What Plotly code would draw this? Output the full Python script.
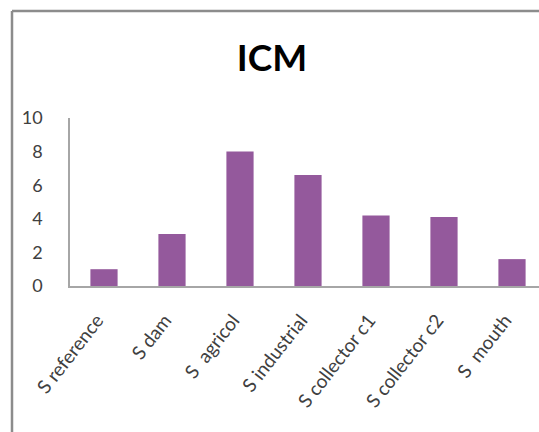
import plotly.graph_objects as go

# ICM index per sampling station
stations = ["S reference", "S dam", "S\u00a0\u00a0agricol",
            "S industrial", "S collector c1", "S collector c2", "S\u00a0\u00a0mouth"]
icm_values = [1.0, 3.1, 8.0, 6.6, 4.2, 4.1, 1.6]
y_ticks = [0, 2, 4, 6, 8, 10]

BAR_COLOR = "#94599C"
AXIS_COLOR = "#A6A6A6"
TEXT_COLOR = "#404040"
FONT = "Lato, Carlito, Calibri, sans-serif"

fig = go.Figure(
    go.Bar(x=stations, y=icm_values, marker=dict(color=BAR_COLOR, line=dict(width=0)))
)

# plot area spans 70..539 px horizontally and 118..286 px vertically
W, H = 539, 432
left, right, top, bottom = 70, 0, 118, 146
plot_w = W - left - right
plot_h = H - top - bottom

fig.update_layout(
    width=W,
    height=H,
    margin=dict(l=left, r=right, t=top, b=bottom, pad=0),
    paper_bgcolor="white",
    plot_bgcolor="white",
    bargap=0.6,
    showlegend=False,
    font=dict(family=FONT, color=TEXT_COLOR, size=19),
    title=dict(
        text="<b>ICM</b>",
        x=272 / W,
        xanchor="center",
        y=1 - 58 / H,
        yanchor="middle",
        font=dict(family=FONT, size=37, color="#000000"),
    ),
)

fig.update_xaxes(
    range=[-0.5, -0.5 + plot_w / 68.0],
    showgrid=False,
    zeroline=False,
    showline=True,
    linecolor=AXIS_COLOR,
    linewidth=1.5,
    ticks="",
    tickangle=-52,
    ticklabelstandoff=14,
    ticklabelshift=-7,
    tickfont=dict(family=FONT, size=19, color=TEXT_COLOR),
)
fig.update_yaxes(
    range=[0, 10],
    tickvals=y_ticks,
    showgrid=False,
    zeroline=False,
    showline=True,
    linecolor=AXIS_COLOR,
    linewidth=1.5,
    ticks="",
    ticklabelstandoff=22,
    tickfont=dict(family=FONT, size=18, color=TEXT_COLOR),
)

# chart frame: left and top edges of the surrounding border
bx = (12 - left) / plot_w
by = (286 - 11) / plot_h
fig.add_shape(type="line", xref="paper", yref="paper", x0=bx, x1=bx, y0=-2, y1=by,
              line=dict(color="#8C8C8C", width=2.5))
fig.add_shape(type="line", xref="paper", yref="paper", x0=bx, x1=1.2, y0=by, y1=by,
              line=dict(color="#8C8C8C", width=2.5))

fig.write_html("out.html")
